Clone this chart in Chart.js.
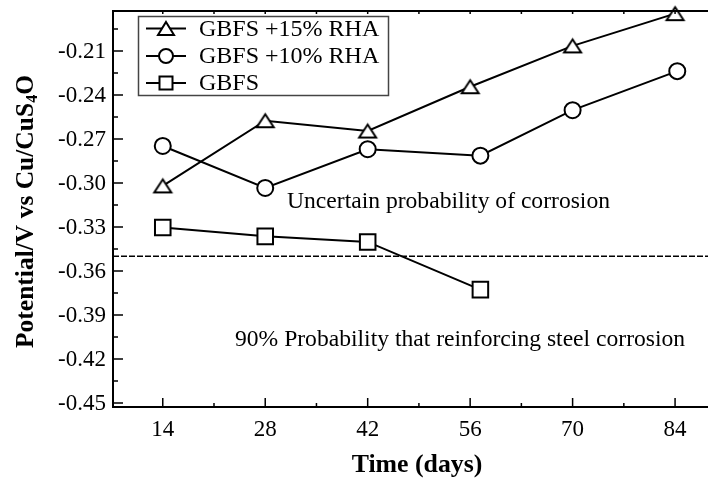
<!DOCTYPE html>
<html><head><meta charset="utf-8">
<script src="https://cdn.jsdelivr.net/npm/chart.js@4.4.1/dist/chart.umd.min.js"></script>
<style>html,body{margin:0;padding:0;background:#fff;overflow:hidden}#wrap{width:708px;height:481px}</style>
</head><body><div id="wrap"><canvas id="c" width="708" height="481"></canvas></div>
<script>
// ---- data ----
const xTickValues = [14, 28, 42, 56, 70, 84];
const xMinorTicks = [21, 35, 49, 63, 77];
const yTickValues = [-0.45, -0.42, -0.39, -0.36, -0.33, -0.30, -0.27, -0.24, -0.21];
const yMinorTicks = [-0.435, -0.405, -0.375, -0.345, -0.315, -0.285, -0.255, -0.225, -0.195];
const seriesNames = ['GBFS +15% RHA', 'GBFS +10% RHA', 'GBFS'];
const rha15Days = [14, 28, 42, 56, 70, 84];
const rha15 = [-0.302, -0.2576, -0.2646, -0.2344, -0.2066, -0.1846];
const rha10Days = [14, 28, 42, 57.4, 70, 84.3];
const rha10 = [-0.2748, -0.3034, -0.277, -0.2814, -0.2504, -0.2238];
const gbfsDays = [14, 28, 42, 57.4];
const gbfs = [-0.3303, -0.3364, -0.3402, -0.3727];
const thresholdValue = -0.35;
const xRange = [7.2, 88.5];
const yRange = [-0.4527, -0.1828];
const noteUpper = 'Uncertain probability of corrosion';
const noteLower = '90% Probability that reinforcing steel corrosion';
const xTitle = 'Time (days)';
const yTitleParts = ['Potential/V vs Cu/CuS', '4', 'O'];

const SERIF = '"Liberation Serif", "Times New Roman", serif';

function makeTriangle(w, h, lw) {
  const m = 3;
  const c = document.createElement('canvas');
  c.width = w + m * 2; c.height = h + m * 2;
  const g = c.getContext('2d');
  g.lineWidth = lw; g.strokeStyle = '#000'; g.fillStyle = '#fff';
  g.beginPath();
  g.moveTo(c.width / 2, m);
  g.lineTo(c.width - m, c.height - m);
  g.lineTo(m, c.height - m);
  g.closePath(); g.fill(); g.stroke();
  return c;
}
const triBig = makeTriangle(17, 13, 2);
const triSmall = makeTriangle(16, 13, 2);

const pts = (xs, ys) => xs.map((x, i) => ({x: x, y: ys[i]}));

const base = {borderColor: '#000', borderWidth: 2, backgroundColor: '#fff',
  pointBorderColor: '#000', pointBackgroundColor: '#fff', pointBorderWidth: 2,
  tension: 0, clip: false, fill: false};

const datasets = [
  Object.assign({}, base, {label: seriesNames[0], data: pts(rha15Days, rha15), pointStyle: triBig, pointRadius: 9}),
  Object.assign({}, base, {label: seriesNames[1], data: pts(rha10Days, rha10), pointStyle: 'circle', pointRadius: 8}),
  Object.assign({}, base, {label: seriesNames[2], data: pts(gbfsDays, gbfs), pointStyle: 'rect', pointRadius: 11}),
  {label: 'threshold', data: [{x: xRange[0], y: thresholdValue}, {x: xRange[1], y: thresholdValue}],
   borderColor: '#000', borderWidth: 1.5, borderDash: [6, 2], pointRadius: 0, fill: false, tension: 0, order: 10}
];

const decor = {
  id: 'decor',
  afterDatasetsDraw(chart) {
    const ctx = chart.ctx;
    const xs = chart.scales.x, ys = chart.scales.y;
    const a = chart.chartArea;
    ctx.save();
    ctx.strokeStyle = '#000';
    ctx.lineWidth = 2;
    ctx.beginPath();
    ctx.moveTo(a.left, a.top); ctx.lineTo(a.left, a.bottom);
    ctx.moveTo(a.left - 1, a.bottom); ctx.lineTo(a.right, a.bottom);
    ctx.moveTo(a.left - 1, a.top); ctx.lineTo(a.right, a.top);
    ctx.stroke();
    ctx.lineWidth = 1.5;
    ctx.beginPath();
    yTickValues.forEach(v => { const y = ys.getPixelForValue(v); ctx.moveTo(a.left, y); ctx.lineTo(a.left + 10, y); });
    yMinorTicks.forEach(v => { const y = ys.getPixelForValue(v); ctx.moveTo(a.left, y); ctx.lineTo(a.left + 5, y); });
    xTickValues.forEach(v => { const x = xs.getPixelForValue(v); ctx.moveTo(x, a.bottom); ctx.lineTo(x, a.bottom - 9);
      ctx.moveTo(x, a.top); ctx.lineTo(x, a.top + 3); });
    xMinorTicks.forEach(v => { const x = xs.getPixelForValue(v); ctx.moveTo(x, a.bottom); ctx.lineTo(x, a.bottom - 4);
      ctx.moveTo(x, a.top); ctx.lineTo(x, a.top + 3); });
    ctx.stroke();

    // tick labels
    ctx.fillStyle = '#000';
    ctx.font = '23px ' + SERIF;
    ctx.textAlign = 'right';
    ctx.textBaseline = 'middle';
    yTickValues.forEach(v => { ctx.fillText(v.toFixed(2), a.left - 7, ys.getPixelForValue(v) + 1); });
    ctx.textAlign = 'center';
    ctx.textBaseline = 'alphabetic';
    xTickValues.forEach(v => { ctx.fillText(String(v), xs.getPixelForValue(v), 435.5); });

    // legend
    ctx.strokeStyle = '#444';
    ctx.lineWidth = 1.5;
    ctx.fillStyle = '#fff';
    ctx.fillRect(138.5, 16.5, 250, 79);
    ctx.strokeRect(138.5, 16.5, 250, 79);
    const rows = [28.5, 56, 83];
    ctx.font = '24px ' + SERIF;
    ctx.textBaseline = 'middle';
    ctx.textAlign = 'left';
    rows.forEach((ry, i) => {
      ctx.strokeStyle = '#000'; ctx.lineWidth = 2;
      ctx.beginPath(); ctx.moveTo(146, ry); ctx.lineTo(186, ry); ctx.stroke();
      ctx.fillStyle = '#fff';
      if (i === 0) {
        ctx.drawImage(triSmall, 166 - triSmall.width / 2, ry - triSmall.height / 2);
      } else if (i === 1) {
        ctx.beginPath(); ctx.arc(166, ry, 7, 0, Math.PI * 2); ctx.fill(); ctx.stroke();
      } else {
        ctx.fillRect(159.5, ry - 6.5, 13, 13); ctx.strokeRect(159.5, ry - 6.5, 13, 13);
      }
      ctx.fillStyle = '#000';
      ctx.fillText(chart.data.datasets[i].label, 199, ry + 1);
    });

    // annotations
    ctx.font = '23.6px ' + SERIF;
    ctx.textBaseline = 'alphabetic';
    ctx.fillStyle = '#000';
    ctx.fillText(noteUpper, 287, 208);
    ctx.fillText(noteLower, 235, 346);

    // x title
    ctx.font = 'bold 25.8px ' + SERIF;
    ctx.textAlign = 'center';
    ctx.fillText(xTitle, 417, 472);

    // y title (rotated, with subscript)
    ctx.translate(33, 211.5);
    ctx.rotate(-Math.PI / 2);
    const f1 = 'bold 25.5px ' + SERIF, f2 = 'bold 16px ' + SERIF;
    ctx.font = f1; const w1 = ctx.measureText(yTitleParts[0]).width;
    ctx.font = f2; const w2 = ctx.measureText(yTitleParts[1]).width;
    ctx.font = f1; const w3 = ctx.measureText(yTitleParts[2]).width;
    let x0 = -(w1 + w2 + w3) / 2;
    ctx.textAlign = 'left';
    ctx.font = f1; ctx.fillText(yTitleParts[0], x0, 0);
    ctx.font = f2; ctx.fillText(yTitleParts[1], x0 + w1, 4);
    ctx.font = f1; ctx.fillText(yTitleParts[2], x0 + w1 + w2, 0);
    ctx.restore();
  }
};

new Chart(document.getElementById('c'), {
  type: 'line',
  data: {datasets: datasets},
  options: {
    responsive: false, animation: false, devicePixelRatio: 1,
    layout: {autoPadding: false, padding: {top: 11, right: 0, left: 0, bottom: 0}},
    plugins: {legend: {display: false}, tooltip: {enabled: false}, title: {display: false}},
    scales: {
      x: {type: 'linear', min: xRange[0], max: xRange[1],
        afterBuildTicks: s => { s.ticks = xTickValues.map(v => ({value: v})); },
        afterFit: s => { s.height = 74; },
        grid: {display: false, drawTicks: false}, border: {display: false},
        ticks: {display: false}},
      y: {type: 'linear', min: yRange[0], max: yRange[1],
        afterBuildTicks: s => { s.ticks = yTickValues.map(v => ({value: v})); },
        afterFit: s => { s.width = 113; },
        grid: {display: false, drawTicks: false}, border: {display: false},
        ticks: {display: false}}
    }
  },
  plugins: [decor]
});
</script>
</body></html>
